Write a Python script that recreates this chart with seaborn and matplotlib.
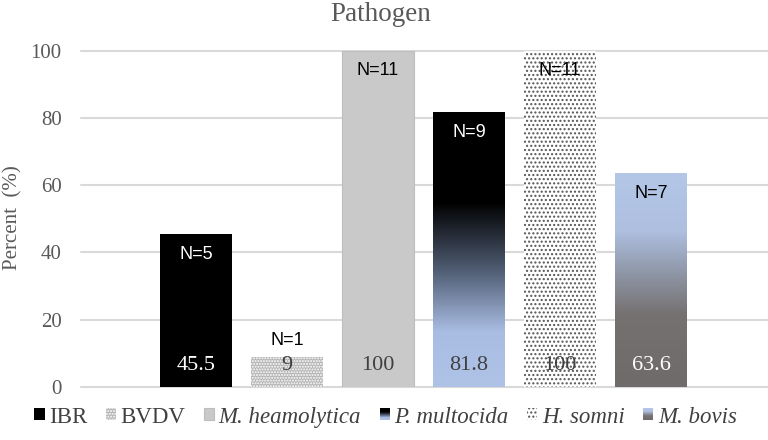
import numpy as np
import pandas as pd
import matplotlib
matplotlib.use("Agg")
import matplotlib.pyplot as plt
import seaborn as sns
from matplotlib.colors import LinearSegmentedColormap
from matplotlib.patches import Patch, Rectangle
from matplotlib.legend_handler import HandlerBase

pathogens = ["IBR", "BVDV", "M. heamolytica", "P. multocida", "H. somni", "M. bovis"]
percent = [45.5, 9, 100, 81.8, 100, 63.6]
value_labels = ["45.5", "9", "100", "81.8", "100", "63.6"]
n_counts = [5, 1, 11, 9, 11, 7]
italic_names = [False, False, True, True, True, True]

df = pd.DataFrame({"pathogen": pathogens, "percent": percent})

sns.set_style("white")
plt.rcParams["font.family"] = ["Liberation Serif", "DejaVu Serif"]
plt.rcParams["hatch.linewidth"] = 1.0

grey_text = "#595959"
dark_text = "#404040"

# gradient fills, position 0 = top of bar
cmap_pm = LinearSegmentedColormap.from_list(
    "pm", [(0, "#000000"), (0.33, "#000000"), (0.57, "#4d5a70"), (0.8, "#a9bde3"), (1, "#afc3e7")])
cmap_mb = LinearSegmentedColormap.from_list(
    "mb", [(0, "#b4c7e7"), (0.27, "#aebfe0"), (0.47, "#8e96a6"), (0.66, "#767171"), (1, "#706b6b")])

palette = {"IBR": "#000000", "BVDV": "#b4b4b4", "M. heamolytica": "#c9c9c9",
           "P. multocida": "#000000", "H. somni": "#ffffff", "M. bovis": "#b4c7e7"}

fig = plt.figure(figsize=(7.68, 4.4), dpi=100)
ax = fig.add_axes([81 / 768, 1 - 387 / 440, 1 - 81 / 768, (387 - 50.7) / 440])

sns.barplot(data=df, x="pathogen", y="percent", hue="pathogen", palette=palette,
            legend=False, width=0.79, saturation=1, ax=ax, zorder=2)

bars = sorted(ax.patches, key=lambda p: p.get_x())
grad = np.linspace(0, 1, 256).reshape(-1, 1)

for i, p in enumerate(bars):
    p.set_linewidth(0)
    if i == 1:
        p.set_hatch("......")
        p.set_edgecolor("white")
    elif i == 2:
        p.set_edgecolor("#bdbdbd")
        p.set_linewidth(0.8)
    elif i == 4:
        p.set_hatch("....")
        p.set_edgecolor("#555555")
    elif i in (3, 5):
        x0, w, h = p.get_x(), p.get_width(), p.get_height()
        im = ax.imshow(grad, extent=(x0, x0 + w, 0, h), aspect="auto",
                       cmap=cmap_pm if i == 3 else cmap_mb, zorder=2.1)
        im.set_clip_path(p)

ax.set_xlim(-1.264, 6.286)
ax.set_ylim(0, 100)

# labels on the bars
for i, p in enumerate(bars):
    cx = p.get_x() + p.get_width() / 2
    h = p.get_height()
    if h > 20:
        dy = -14.5
    else:
        dy = 12
    n_col = "white" if i in (0, 3) else "black"
    ax.annotate(f"N={n_counts[i]}", (cx, h), xytext=(0, dy), textcoords="offset points",
                ha="center", va="center", fontsize=13, color=n_col,
                family="Liberation Sans", zorder=5)
    v_col = "white" if i in (0, 5) else dark_text
    ax.text(cx, 6.3, value_labels[i], ha="center", va="center", fontsize=16,
            color=v_col, zorder=5)

ax.set_yticks(range(0, 101, 20))
ax.yaxis.grid(True, color="#d9d9d9", linewidth=1.5)
for gl in ax.get_ygridlines():
    gl.set_clip_on(False)
ax.set_axisbelow(True)
ax.tick_params(axis="y", length=0, pad=14, labelsize=15, labelcolor=grey_text)
ax.tick_params(axis="x", length=0, labelbottom=False)
ax.set_xlabel("")
ax.set_ylabel("")
sns.despine(ax=ax, left=True, bottom=True)

fig.text(0.495, 0.968, "Pathogen", ha="center", va="center", fontsize=19.5, color=grey_text)
fig.text(13 / 768, 1 - 218 / 440, "Percent  (%)", rotation=90, ha="center", va="center",
         fontsize=15, color=grey_text)


class GradientHandler(HandlerBase):
    def __init__(self, cmap):
        super().__init__()
        self.cmap = cmap

    def create_artists(self, legend, orig_handle, xdescent, ydescent, width, height, fontsize, trans):
        steps = 12
        arts = []
        for k in range(steps):
            y = -ydescent + height - (k + 1) * height / steps
            arts.append(Rectangle((-xdescent, y), width, height / steps,
                                  facecolor=self.cmap((k + 0.5) / steps), edgecolor="none",
                                  transform=trans))
        return arts


h_ibr = Patch(facecolor="#000000", linewidth=0)
h_bvdv = Patch(facecolor="#b4b4b4", hatch="......", edgecolor="white", linewidth=0)
h_mh = Patch(facecolor="#c9c9c9", edgecolor="#bdbdbd", linewidth=0.8)
h_pm = Patch(facecolor="#000000")
h_hs = Patch(facecolor="white", hatch="....", edgecolor="#555555", linewidth=0)
h_mb = Patch(facecolor="#b4c7e7")
handles = [h_ibr, h_bvdv, h_mh, h_pm, h_hs, h_mb]

leg = fig.legend(handles, pathogens, loc="center", bbox_to_anchor=(0.502, 1 - 417 / 440),
                 ncol=6, frameon=False, prop={"family": "Liberation Serif", "size": 16.5},
                 handlelength=0.45, handleheight=0.45, handletextpad=0.2, columnspacing=0.8,
                 labelcolor=dark_text,
                 handler_map={h_pm: GradientHandler(cmap_pm), h_mb: GradientHandler(cmap_mb)})
for t, it in zip(leg.get_texts(), italic_names):
    if it:
        t.set_fontstyle("italic")

fig.savefig("out.png", dpi=100)
